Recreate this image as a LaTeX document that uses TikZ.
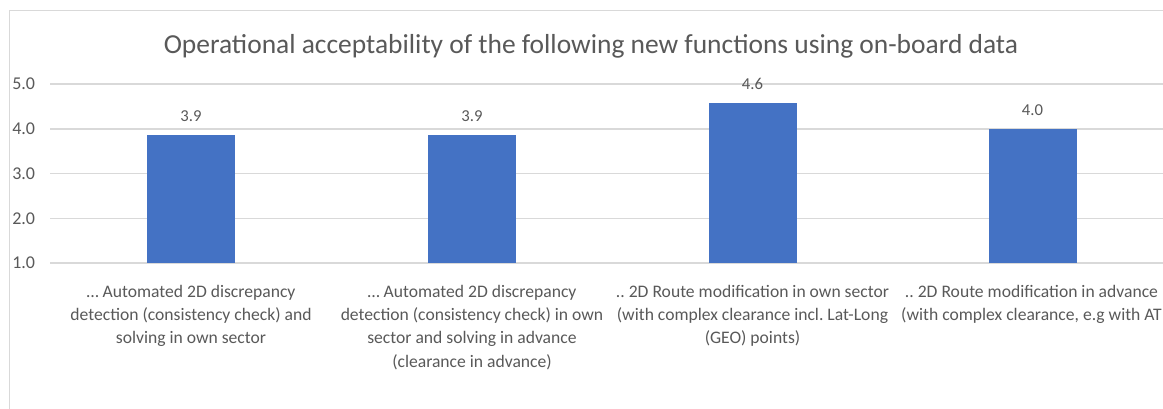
\documentclass[tikz,border=0pt]{standalone}
\usepackage{fontspec}
\setmainfont{Carlito}
\frenchspacing
\definecolor{barblue}{HTML}{4472C4}
\definecolor{gridgrey}{HTML}{D9D9D9}
\definecolor{txtgrey}{HTML}{595959}
\begin{document}
\begin{tikzpicture}[x=0.75pt,y=-0.75pt,
  grid/.style={draw=gridgrey,line width=0.9pt},
  bar/.style={fill=barblue,draw=none},
  ticklbl/.style={text=txtgrey,font=\fontsize{13.5pt}{15pt}\selectfont,anchor=west,inner sep=0pt},
  vallbl/.style={text=txtgrey,font=\fontsize{12.5pt}{15pt}\selectfont,inner sep=0pt},
  catlbl/.style={text=txtgrey,font=\fontsize{13.2pt}{17.4pt}\selectfont,align=center,anchor=north,inner sep=0pt},
  titlelbl/.style={text=txtgrey,font=\fontsize{20.6pt}{24pt}\selectfont,inner sep=0pt}]
\useasboundingbox (0,0) rectangle (1163,409);
\clip (0,0) rectangle (1163,409);
\fill[white] (0,0) rectangle (1163,409);
% frame
\draw[draw=gridgrey,line width=0.9pt] (9.5,420) -- (9.5,10.5) -- (1175,10.5);
% gridlines and ticks
\foreach \v/\yy in {5/84,4/129,3/173.5,2/218.5,1/263}{
  \draw[grid] (50,\yy) -- (1175,\yy);
  \node[ticklbl] (t\v) at (12,\yy) {\v.0};
}
% title
\node[titlelbl] (title) at (591,46) {Operational acceptability of the following new functions using on-board data};
% bars
\foreach \i/\cx/\val/\lab in {1/191/3.86/3.9, 2/472/3.86/3.9, 3/752.5/4.57/4.6, 4/1032.5/4.0/4.0}{
  \pgfmathsetmacro{\ytop}{263-(\val-1)*44.75}
  \path[bar] (\cx-44,263) rectangle (\cx+44,\ytop);
  \node[vallbl] (v\i) at (\cx,\ytop-19) {\lab};
}
% category labels
\node[catlbl] (c1) at (191,285) {\dots\ Automated 2D discrepancy\\detection (consistency check) and\\solving in own sector};
\node[catlbl] (c2) at (472,285) {\dots\ Automated 2D discrepancy\\detection (consistency check) in own\\sector and solving in advance\\(clearance in advance)};
\node[catlbl] (c3) at (752.5,285) {.. 2D Route modification in own sector\\(with complex clearance incl. Lat-Long\\(GEO) points)};
\node[catlbl] (c4) at (1031.5,285) {.. 2D Route modification in advance\\(with complex clearance, e.g with AT};
\end{tikzpicture}
\end{document}
